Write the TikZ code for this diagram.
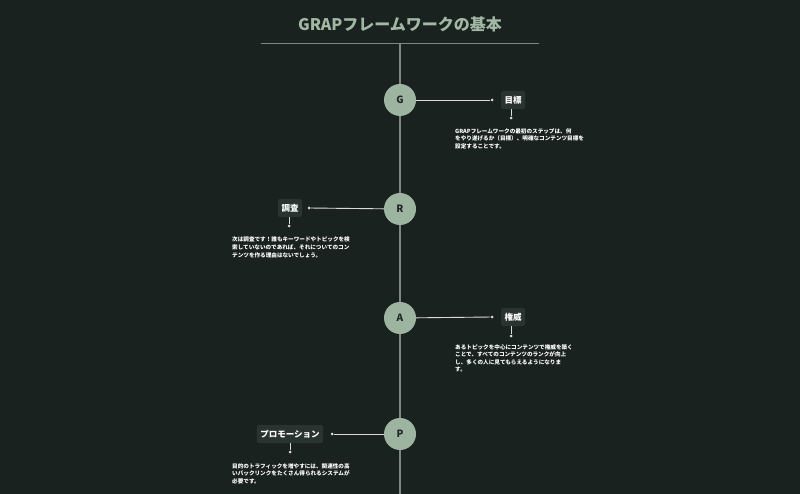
\documentclass[tikz,border=0pt]{standalone}
\usepackage{fontspec}
\setmainfont{Noto Sans CJK JP}
\definecolor{bg}{HTML}{1A221F}
\definecolor{sage}{HTML}{9DB4A0}
\definecolor{titlec}{HTML}{A2B8A5}
\definecolor{axis}{HTML}{7E8782}
\definecolor{conn}{HTML}{D6DCD8}
\definecolor{boxc}{HTML}{29332F}
\definecolor{darkl}{HTML}{1E2824}
\begin{document}
\begin{tikzpicture}[x=1pt,y=-1pt,
  stage/.style={circle,fill=sage,minimum size=32pt,inner sep=0pt,font=\fontsize{10}{10}\selectfont\bfseries,text=darkl},
  lbl/.style={fill=boxc,rounded corners=2pt,text=white,font=\fontsize{8.5}{9}\selectfont\bfseries,inner sep=3.5pt,minimum height=18pt},
  desc/.style={anchor=north west,align=left,text=white,font=\fontsize{5.6}{7.6}\selectfont\bfseries,inner sep=0pt},
  dotc/.style={circle,fill=conn,inner sep=0pt,minimum size=3pt},
  cline/.style={draw=conn,line width=0.9pt},
]
\fill[bg] (0,0) rectangle (800,494);
\useasboundingbox (0,0) rectangle (800,494);
\node[text=titlec,font=\fontsize{16}{16}\selectfont\bfseries] (title) at (400,24) {GRAPフレームワークの基本};
\coordinate (tl) at (261,44);
\coordinate (tr) at (539,44);
\draw[axis,line width=1pt] (tl) -- (tr);
\coordinate (vtop) at (400,44);
\coordinate (vbot) at (400,494);
\draw[axis,line width=1.6pt] (vtop) -- (vbot);

% G
\node[stage] (g) at (400,100) {G};
\node[lbl] (gl) at (513,100) {目標};
\node[dotc] (gd1) at (492,100) {};
\node[dotc] (gd2) at (511,118) {};
\draw[cline] (g) -- (gd1);
\draw[cline] (gl.south -| gd2) -- (gd2);
\node[desc] (gt) at (455,128) {GRAPフレームワークの最初のステップは、何\\をやり遂げるか（目標）、明確なコンテンツ目標を\\設定することです。};

% R
\node[stage] (r) at (400,209) {R};
\node[lbl] (rl) at (290,208) {調査};
\node[dotc] (rd1) at (309,208) {};
\node[dotc] (rd2) at (289,226) {};
\draw[cline] (r) -- (rd1);
\draw[cline] (rl.south -| rd2) -- (rd2);
\node[desc] (rt) at (232,237) {次は調査です！誰もキーワードやトピックを検\\索していないのであれば、それについてのコン\\テンツを作る理由はないでしょう。};

% A
\node[stage] (a) at (400,318) {A};
\node[lbl] (al) at (513,317) {権威};
\node[dotc] (ad1) at (492,317) {};
\node[dotc] (ad2) at (511,336) {};
\draw[cline] (a) -- (ad1);
\draw[cline] (al.south -| ad2) -- (ad2);
\node[desc] (at) at (455,344) {あるトピックを中心にコンテンツで権威を築く\\ことで、すべてのコンテンツのランクが向上\\し、多くの人に見てもらえるようになりま\\す。};

% P
\node[stage] (p) at (400,434) {P};
\node[lbl] (pl) at (290,434) {プロモーション};
\node[dotc] (pd1) at (332,434) {};
\node[dotc] (pd2) at (290,452) {};
\draw[cline] (p) -- (pd1);
\draw[cline] (pl.south -| pd2) -- (pd2);
\node[desc] (pt) at (232,463) {目的のトラフィックを増やすには、関連性の高\\いバックリンクをたくさん得られるシステムが\\必要です。};
\end{tikzpicture}
\end{document}
